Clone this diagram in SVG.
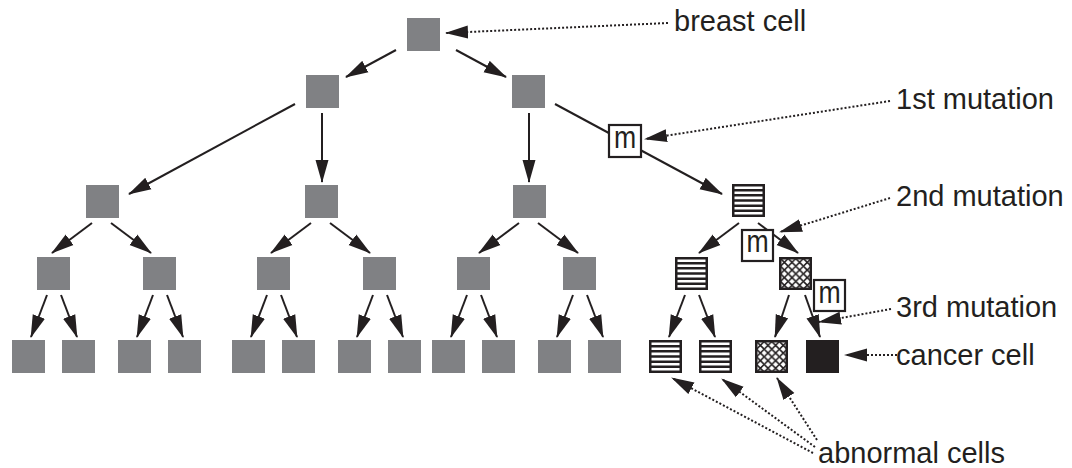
<svg xmlns="http://www.w3.org/2000/svg" xmlns:xlink="http://www.w3.org/1999/xlink" width="1072" height="468" viewBox="0 0 1072 468">
<style>
.cell{fill:#808184}
.edge{stroke:#231f20;stroke-width:2;fill:none;marker-end:url(#ah)}
.dot{stroke:#231f20;stroke-width:2;fill:none;stroke-dasharray:2 2;marker-end:url(#ah)}
.mbox{fill:#fff;stroke:#231f20;stroke-width:2.2}
.mt{font-family:"Liberation Sans",Arial,sans-serif;font-size:31px;fill:#231f20;text-anchor:middle}
.lbl{font-family:"Liberation Sans",Arial,sans-serif;font-size:29px;fill:#231f20}
</style>
<defs>
<marker id="ah" markerUnits="userSpaceOnUse" markerWidth="23" markerHeight="14" refX="22" refY="7" orient="auto">
<path d="M0,0.5 L23,7 L0,13.5 Z" fill="#231f20"/>
</marker>
<pattern id="xh" patternUnits="objectBoundingBox" width="0.25" height="0.25">
<path d="M0,0 L8.25,8.25 M0,8.25 L8.25,0" stroke="#231f20" stroke-width="1.6"/>
</pattern>
<g id="striped">
<rect x="1.25" y="1.25" width="30.5" height="30.5" fill="#fff" stroke="#231f20" stroke-width="2.5"/>
<path d="M1,6.2H32M1,11.3H32M1,16.5H32M1,21.7H32M1,26.8H32" stroke="#231f20" stroke-width="2.5"/>
</g>
<g id="hatched">
<rect x="1.25" y="1.25" width="30.5" height="30.5" fill="#fff"/>
<rect x="1.25" y="1.25" width="30.5" height="30.5" fill="url(#xh)" stroke="#231f20" stroke-width="2.5"/>
</g>
</defs>

<g id="connectors">
<line class="edge" x1="396" y1="50" x2="346" y2="77"/>
<line class="edge" x1="456" y1="50" x2="506" y2="77"/>
<line class="edge" x1="295" y1="104" x2="129" y2="194"/>
<line class="edge" x1="322" y1="113" x2="322" y2="182"/>
<line class="edge" x1="529" y1="113" x2="529" y2="182"/>
<line class="edge" x1="555" y1="104" x2="722" y2="194"/>
<line class="edge" x1="92" y1="223" x2="52" y2="253"/>
<line class="edge" x1="111" y1="223" x2="151" y2="253"/>
<line class="edge" x1="311" y1="223" x2="271" y2="253"/>
<line class="edge" x1="330" y1="223" x2="370" y2="253"/>
<line class="edge" x1="519" y1="223" x2="479" y2="253"/>
<line class="edge" x1="538" y1="223" x2="578" y2="253"/>
<line class="edge" x1="739" y1="223" x2="699" y2="253"/>
<line class="edge" x1="758" y1="223" x2="798" y2="253"/>
<line class="edge" x1="47" y1="295" x2="31" y2="337"/>
<line class="edge" x1="61" y1="295" x2="77" y2="337"/>
<line class="edge" x1="153" y1="295" x2="137" y2="337"/>
<line class="edge" x1="167" y1="295" x2="183" y2="337"/>
<line class="edge" x1="267" y1="295" x2="251" y2="337"/>
<line class="edge" x1="281" y1="295" x2="297" y2="337"/>
<line class="edge" x1="373" y1="295" x2="357" y2="337"/>
<line class="edge" x1="387" y1="295" x2="403" y2="337"/>
<line class="edge" x1="467" y1="295" x2="451" y2="337"/>
<line class="edge" x1="481" y1="295" x2="497" y2="337"/>
<line class="edge" x1="573" y1="295" x2="557" y2="337"/>
<line class="edge" x1="587" y1="295" x2="603" y2="337"/>
<line class="edge" x1="685" y1="295" x2="669" y2="337"/>
<line class="edge" x1="699" y1="295" x2="715" y2="337"/>
<line class="edge" x1="789" y1="295" x2="775" y2="337"/>
<line class="edge" x1="805" y1="295" x2="820" y2="337"/>
<line class="dot" x1="668" y1="23" x2="446" y2="33"/>
<line class="dot" x1="890" y1="101" x2="645" y2="139"/>
<line class="dot" x1="890" y1="198" x2="780" y2="232"/>
<line class="dot" x1="891" y1="309" x2="819" y2="322"/>
<line class="dot" x1="897" y1="355" x2="845" y2="355"/>
<line class="dot" x1="813" y1="453" x2="672" y2="378"/>
<line class="dot" x1="815" y1="447" x2="722" y2="379"/>
<line class="dot" x1="817" y1="440" x2="777" y2="378"/>
</g>

<g id="n0"><rect class="cell" x="407" y="18" width="33" height="33"/></g>
<g id="n1a"><rect class="cell" x="306" y="75" width="33" height="33"/></g>
<g id="n1b"><rect class="cell" x="512" y="75" width="33" height="33"/></g>
<g id="n2a"><rect class="cell" x="86" y="185" width="33" height="33"/></g>
<g id="n2b"><rect class="cell" x="305" y="185" width="33" height="33"/></g>
<g id="n2c"><rect class="cell" x="513" y="185" width="33" height="33"/></g>
<g id="n2d"><use href="#striped" xlink:href="#striped" x="732" y="184"/></g>
<g id="n3a"><rect class="cell" x="37" y="257" width="33" height="33"/></g>
<g id="n3b"><rect class="cell" x="143" y="257" width="33" height="33"/></g>
<g id="n3c"><rect class="cell" x="257" y="257" width="33" height="33"/></g>
<g id="n3d"><rect class="cell" x="363" y="257" width="33" height="33"/></g>
<g id="n3e"><rect class="cell" x="457" y="257" width="33" height="33"/></g>
<g id="n3f"><rect class="cell" x="563" y="257" width="33" height="33"/></g>
<g id="n3g"><use href="#striped" xlink:href="#striped" x="675" y="257"/></g>
<g id="n3h"><use href="#hatched" xlink:href="#hatched" x="779" y="257"/></g>
<g id="n4a"><rect class="cell" x="12" y="340" width="33" height="33"/></g>
<g id="n4b"><rect class="cell" x="62" y="340" width="33" height="33"/></g>
<g id="n4c"><rect class="cell" x="118" y="340" width="33" height="33"/></g>
<g id="n4d"><rect class="cell" x="168" y="340" width="33" height="33"/></g>
<g id="n4e"><rect class="cell" x="232" y="340" width="33" height="33"/></g>
<g id="n4f"><rect class="cell" x="282" y="340" width="33" height="33"/></g>
<g id="n4g"><rect class="cell" x="338" y="340" width="33" height="33"/></g>
<g id="n4h"><rect class="cell" x="388" y="340" width="33" height="33"/></g>
<g id="n4i"><rect class="cell" x="432" y="340" width="33" height="33"/></g>
<g id="n4j"><rect class="cell" x="482" y="340" width="33" height="33"/></g>
<g id="n4k"><rect class="cell" x="538" y="340" width="33" height="33"/></g>
<g id="n4l"><rect class="cell" x="588" y="340" width="33" height="33"/></g>
<g id="n4m"><use href="#striped" xlink:href="#striped" x="649" y="340"/></g>
<g id="n4n"><use href="#striped" xlink:href="#striped" x="699" y="340"/></g>
<g id="n4o"><use href="#hatched" xlink:href="#hatched" x="755" y="340"/></g>
<g id="n4p"><rect x="806" y="340" width="33" height="33" fill="#231f20"/></g>

<g id="m1"><rect class="mbox" x="609" y="125" width="32" height="32"/><text class="mt" transform="translate(625 148) scale(0.86 1)">m</text></g>
<g id="m2"><rect class="mbox" x="742" y="230" width="31" height="31"/><text class="mt" transform="translate(757.5 252) scale(0.86 1)">m</text></g>
<g id="m3"><rect class="mbox" x="814" y="280" width="31" height="31"/><text class="mt" transform="translate(829.5 303) scale(0.86 1)">m</text></g>

<g id="labels">
<text class="lbl" x="674" y="31">breast cell</text>
<text class="lbl" x="896" y="109">1st mutation</text>
<text class="lbl" x="896" y="206">2nd mutation</text>
<text class="lbl" x="896" y="317">3rd mutation</text>
<text class="lbl" x="896" y="365">cancer cell</text>
<text class="lbl" x="818" y="463">abnormal cells</text>
</g>
</svg>
